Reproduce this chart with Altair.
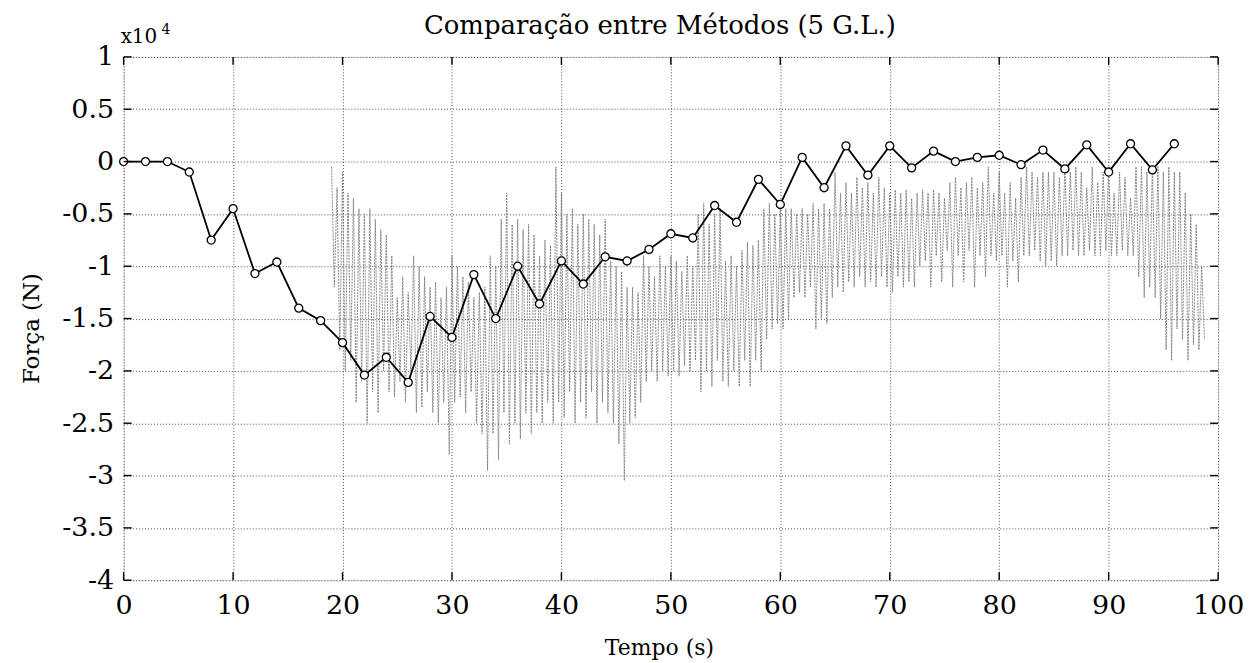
import altair as alt
import pandas as pd

# ---- black series (sampled method), every 2 s ----
t_circ = list(range(0, 98, 2))
f_circ = [0, 0, 0, -0.1, -0.75, -0.45, -1.07, -0.96, -1.40, -1.52,
          -1.73, -2.04, -1.87, -2.11, -1.48, -1.68, -1.08, -1.50, -1.0, -1.36,
          -0.95, -1.17, -0.91, -0.95, -0.84, -0.69, -0.73, -0.42, -0.58, -0.17,
          -0.41, 0.04, -0.25, 0.15, -0.13, 0.15, -0.06, 0.1, 0.0, 0.04,
          0.06, -0.03, 0.11, -0.07, 0.16, -0.1, 0.17, -0.08, 0.17]

# ---- gray oscillating series: upper / lower extremes per half second from t=19 s ----
osc_start = 19.0
osc_hi = [-0.05, -0.25, -0.1, -0.3, -0.35, -0.45, -0.5, -0.45, -0.55, -0.65,
          -0.7, -0.9, -1.3, -1.1, -1.25, -0.9, -1.0, -1.1, -1.2, -1.15,
          -1.3, -1.2, -0.9, -1.0, -1.1, -1.15, -1.3, -1.25, -1.2, -0.9,
          -1.0, -0.55, -0.3, -0.6, -0.55, -0.65, -0.6, -0.7, -0.9, -0.75,
          -0.8, -0.05, -0.3, -0.5, -0.45, -0.6, -0.5, -0.55, -0.6, -0.7,
          -0.55, -0.95, -1.0, -1.05, -1.2, -1.2, -1.25, -0.9, -1.0, -1.1,
          -0.9, -1.0, -0.9, -0.95, -1.05, -0.9, -1.0, -0.5, -0.4, -0.6,
          -0.5, -0.45, -0.95, -0.9, -1.0, -0.85, -0.77, -0.8, -0.75, -0.45,
          -0.4, -0.5, -0.45, -0.45, -0.45, -0.5, -0.45, -0.5, -0.4, -0.45,
          -0.4, -0.45, -0.1, -0.3, -0.2, -0.3, -0.15, -0.25, -0.2, -0.3,
          -0.15, -0.25, -0.3, -0.27, -0.3, -0.27, -0.35, -0.3, -0.27, -0.3,
          -0.27, -0.3, -0.35, -0.2, -0.15, -0.25, -0.2, -0.15, -0.25, -0.2,
          -0.05, -0.3, -0.1, -0.3, -0.2, -0.35, -0.15, -0.05, -0.1, -0.15,
          -0.1, -0.1, -0.1, -0.15, -0.05, -0.1, -0.05, -0.1, -0.25, -0.05,
          -0.2, -0.1, -0.05, -0.3, -0.1, -0.15, -0.35, -0.05, -0.05, -0.1,
          -0.05, -0.05, -0.1, -0.05, -0.1, -0.1, -0.3, -0.5, -0.6, -1.0]
osc_lo = [-1.2, -1.8, -2.0, -1.9, -2.3, -2.1, -2.5, -2.2, -2.4, -2.0,
          -2.2, -2.25, -2.1, -2.3, -2.0, -2.4, -2.35, -2.2, -2.4, -2.5,
          -2.3, -2.8, -2.3, -2.25, -2.4, -2.2, -2.5, -2.6, -2.95, -2.6,
          -2.85, -2.4, -2.7, -2.5, -2.65, -2.4, -2.6, -2.4, -2.5, -2.3,
          -2.5, -2.3, -2.45, -2.2, -2.5, -2.3, -2.45, -2.2, -2.5, -2.3,
          -2.4, -2.5, -2.7, -3.05, -2.5, -2.45, -2.3, -2.1, -2.0, -2.1,
          -2.0, -2.05, -2.0, -2.05, -1.95, -2.0, -1.9, -2.2, -2.0, -2.15,
          -1.9, -2.1, -2.15, -2.0, -2.15, -1.9, -2.15, -1.9, -2.0, -1.7,
          -1.6, -1.55, -1.6, -1.5, -1.3, -1.25, -1.3, -1.2, -1.6, -1.5,
          -1.55, -1.3, -1.2, -1.25, -1.15, -1.2, -1.1, -1.2, -1.15, -1.2,
          -1.1, -1.2, -1.25, -1.1, -1.2, -1.15, -1.2, -1.0, -0.95, -1.2,
          -0.9, -1.15, -0.85, -1.2, -0.9, -1.15, -0.85, -1.2, -0.9, -1.1,
          -0.9, -0.95, -0.9, -1.2, -0.95, -1.15, -0.9, -0.9, -0.85, -0.95,
          -1.0, -0.95, -1.0, -0.9, -0.9, -0.85, -0.9, -0.9, -0.85, -0.9,
          -0.9, -0.85, -0.9, -0.9, -0.85, -0.9, -0.9, -1.1, -1.3, -1.2,
          -1.3, -1.5, -1.8, -1.9, -1.6, -1.7, -1.9, -1.75, -1.8, -1.7]

x_ticks = [0, 10, 20, 30, 40, 50, 60, 70, 80, 90, 100]
y_ticks = [1, 0.5, 0, -0.5, -1, -1.5, -2, -2.5, -3, -3.5, -4]

TITLE = "Comparação entre Métodos (5 G.L.)"
FONT = "DejaVu Serif"

W, H = 1098, 525

circ_df = pd.DataFrame({"t": t_circ, "f": f_circ})

osc_t, osc_f = [], []
for i, (h, l) in enumerate(zip(osc_hi, osc_lo)):
    t0 = osc_start + 0.5 * i
    osc_t += [t0, t0 + 0.25]
    osc_f += [h, l]
osc_df = pd.DataFrame({"t": osc_t, "f": osc_f, "o": list(range(len(osc_t)))})

xs = alt.Scale(domain=[0, 100], nice=False, zero=False)
ys = alt.Scale(domain=[-4, 1], nice=False, zero=False)

x_axis = alt.Axis(values=x_ticks, title="Tempo (s)", grid=True,
                  labelFontSize=27, labelFont=FONT, labelColor="black", labelPadding=12,
                  labelFlush=False, labelOverlap=False, labelBound=False,
                  ticks=False, domain=False,
                  titleFont=FONT, titleFontSize=22, titleFontWeight="normal", titleColor="black",
                  titleX=537, titleY=68, titleAnchor="middle", titleAlign="center",
                  titleBaseline="middle",
                  gridColor="#222", gridDash=[1, 2], gridWidth=1, gridOpacity=0.8)
y_axis = alt.Axis(values=y_ticks, title="Força (N)", grid=True,
                  labelFontSize=27, labelFont=FONT, labelColor="black", labelPadding=10,
                  labelFlush=False, labelOverlap=False, labelBound=False,
                  labelExpr="'' + datum.value",
                  ticks=False, domain=False,
                  titleFont=FONT, titleFontSize=23, titleFontWeight="normal", titleColor="black",
                  titleX=-92, titleY=272, titleAngle=-90, titleAlign="center",
                  titleBaseline="middle",
                  gridColor="#222", gridDash=[1, 2], gridWidth=1, gridOpacity=0.8)

osc = alt.Chart(osc_df).mark_line(color="#7a7a7a", strokeWidth=0.9, strokeDash=[2, 1]).encode(
    x=alt.X("t:Q", scale=xs, axis=x_axis),
    y=alt.Y("f:Q", scale=ys, axis=y_axis),
    order="o:Q",
)

line = alt.Chart(circ_df).mark_line(color="black", strokeWidth=1.8).encode(
    x=alt.X("t:Q", scale=xs), y=alt.Y("f:Q", scale=ys))

pts = alt.Chart(circ_df).mark_point(shape="circle", size=65, filled=True, fill="white",
                                    stroke="black", strokeWidth=1.3, opacity=1).encode(
    x=alt.X("t:Q", scale=xs), y=alt.Y("f:Q", scale=ys))

# inward tick marks on all four sides (positions from the tick arrays through the scales)
xt_df = pd.DataFrame({"t": x_ticks})
yt_df = pd.DataFrame({"f": y_ticks})
tick_bottom = alt.Chart(xt_df).mark_rule(color="black", strokeWidth=1.4).encode(
    x=alt.X("t:Q", scale=xs), y=alt.value(H), y2=alt.value(H - 8))
tick_top = alt.Chart(xt_df).mark_rule(color="black", strokeWidth=1.4).encode(
    x=alt.X("t:Q", scale=xs), y=alt.value(0), y2=alt.value(8))
tick_left = alt.Chart(yt_df).mark_rule(color="black", strokeWidth=1.4).encode(
    y=alt.Y("f:Q", scale=ys), x=alt.value(0), x2=alt.value(8))
tick_right = alt.Chart(yt_df).mark_rule(color="black", strokeWidth=1.4).encode(
    y=alt.Y("f:Q", scale=ys), x=alt.value(W), x2=alt.value(W - 8))

title_txt = alt.Chart(pd.DataFrame({"s": [TITLE]})).mark_text(
    font=FONT, fontSize=26, align="center", baseline="middle", color="black").encode(
    text="s:N", x=alt.value(538), y=alt.value(-31))
exp_txt = alt.Chart(pd.DataFrame({"s": ["x10"]})).mark_text(
    font=FONT, fontSize=20, align="left", baseline="alphabetic", color="black").encode(
    text="s:N", x=alt.value(-3), y=alt.value(-14))
exp_sup = alt.Chart(pd.DataFrame({"s": ["4"]})).mark_text(
    font=FONT, fontSize=14, align="left", baseline="alphabetic", color="black").encode(
    text="s:N", x=alt.value(38), y=alt.value(-23))

chart = alt.layer(osc, line, pts, tick_bottom, tick_top, tick_left, tick_right,
                  title_txt, exp_txt, exp_sup).properties(
    width=W, height=H,
    autosize=alt.AutoSizeParams(type="none"),
    padding={"left": 116, "top": 48, "right": 28, "bottom": 82},
).configure_view(stroke="black", strokeWidth=1.6).configure(background="white")

chart.save("out.html", embed_options={"renderer": "svg", "actions": False})
